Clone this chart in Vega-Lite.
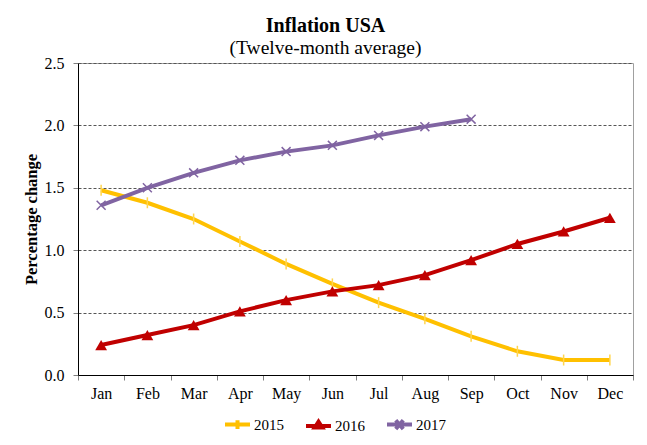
{
  "$schema": "https://vega.github.io/schema/vega-lite/v6.json",
  "width": 555,
  "height": 312,
  "autosize": {"type": "none"},
  "padding": {"left": 78, "top": 63, "right": 14, "bottom": 70},
  "background": "white",
  "title": {
    "text": "Inflation USA",
    "subtitle": "(Twelve-month average)",
    "anchor": "middle",
    "dx": -30,
    "font": "Liberation Serif",
    "fontSize": 20,
    "fontWeight": "bold",
    "color": "black",
    "subtitleFont": "Liberation Serif",
    "subtitleFontSize": 19.5,
    "subtitleColor": "black",
    "subtitlePadding": 3,
    "offset": -2
  },
  "config": {
    "view": {"stroke": "#a0a0a0", "strokeWidth": 1},
    "axis": {
      "labelFont": "Liberation Serif",
      "labelFontSize": 16,
      "labelColor": "black",
      "titleFont": "Liberation Serif",
      "domainColor": "black",
      "tickColor": "#808080"
    }
  },
  "data": {
    "values": [
      {"month": "Jan", "year": "2015", "value": 1.48},
      {"month": "Feb", "year": "2015", "value": 1.38},
      {"month": "Mar", "year": "2015", "value": 1.25},
      {"month": "Apr", "year": "2015", "value": 1.07},
      {"month": "May", "year": "2015", "value": 0.89},
      {"month": "Jun", "year": "2015", "value": 0.73},
      {"month": "Jul", "year": "2015", "value": 0.58},
      {"month": "Aug", "year": "2015", "value": 0.45},
      {"month": "Sep", "year": "2015", "value": 0.31},
      {"month": "Oct", "year": "2015", "value": 0.19},
      {"month": "Nov", "year": "2015", "value": 0.12},
      {"month": "Dec", "year": "2015", "value": 0.12},
      {"month": "Jan", "year": "2016", "value": 0.24},
      {"month": "Feb", "year": "2016", "value": 0.32},
      {"month": "Mar", "year": "2016", "value": 0.40},
      {"month": "Apr", "year": "2016", "value": 0.51},
      {"month": "May", "year": "2016", "value": 0.60},
      {"month": "Jun", "year": "2016", "value": 0.67},
      {"month": "Jul", "year": "2016", "value": 0.72},
      {"month": "Aug", "year": "2016", "value": 0.80},
      {"month": "Sep", "year": "2016", "value": 0.92},
      {"month": "Oct", "year": "2016", "value": 1.05},
      {"month": "Nov", "year": "2016", "value": 1.15},
      {"month": "Dec", "year": "2016", "value": 1.26},
      {"month": "Jan", "year": "2017", "value": 1.36},
      {"month": "Feb", "year": "2017", "value": 1.50},
      {"month": "Mar", "year": "2017", "value": 1.62},
      {"month": "Apr", "year": "2017", "value": 1.72},
      {"month": "May", "year": "2017", "value": 1.79},
      {"month": "Jun", "year": "2017", "value": 1.84},
      {"month": "Jul", "year": "2017", "value": 1.92},
      {"month": "Aug", "year": "2017", "value": 1.99},
      {"month": "Sep", "year": "2017", "value": 2.05}
    ]
  },
  "encoding": {
    "x": {
      "field": "month",
      "type": "ordinal",
      "bandPosition": 0.5,
      "sort": ["Jan","Feb","Mar","Apr","May","Jun","Jul","Aug","Sep","Oct","Nov","Dec"],
      "scale": {"type": "band", "paddingInner": 0, "paddingOuter": 0},
      "axis": {
        "title": null,
        "labelAngle": 0,
        "tickBand": "extent",
        "tickSize": 5,
        "labelPadding": 5,
        "grid": false
      }
    },
    "y": {
      "field": "value",
      "type": "quantitative",
      "scale": {"domain": [0, 2.5]},
      "axis": {
        "title": "Percentage change",
        "titleFontSize": 16.5,
        "titleFontWeight": "bold",
        "titleColor": "black",
        "titlePadding": 5,
        "values": [0, 0.5, 1, 1.5, 2, 2.5],
        "format": ".1f",
        "tickSize": 5,
        "labelPadding": 9,
        "grid": true,
        "gridColor": "#555555",
        "gridDash": [3, 2],
        "gridWidth": 1
      }
    }
  },
  "layer": [
    {
      "mark": {"type": "line"},
      "encoding": {
        "color": {
          "field": "year",
          "type": "nominal",
          "scale": {"domain": ["2015", "2016", "2017"], "range": ["#FFC000", "#C00000", "#8064A2"]},
          "legend": {
            "title": null,
            "orient": "none",
            "direction": "horizontal",
            "legendX": 145,
            "legendY": 347,
            "labelFont": "Liberation Serif",
            "labelFontSize": 15,
            "labelColor": "black",
            "labelOffset": 2,
            "columnPadding": 14,
            "symbolSize": 625,
            "symbolStrokeWidth": 3,
            "encode": {
              "symbols": {
                "update": {
                  "shape": {"signal": "datum.value === '2015' ? 'M-1,0H1M0,-0.35V0.35' : datum.value === '2016' ? 'M-1,0H1M-0.3,0.12L0,-0.35L0.3,0.12Z' : 'M-1,0H1M-0.3,-0.35L0.3,0.35M-0.3,0.35L0.3,-0.35'"},
                  "fill": {"signal": "datum.value === '2016' ? '#C00000' : 'transparent'"},
                  "strokeWidth": {"signal": "datum.value === '2017' ? 2.5 : 3"}
                }
              }
            }
          }
        },
        "strokeWidth": {
          "field": "year",
          "type": "ordinal",
          "scale": {"domain": ["2015", "2016", "2017"], "range": [4, 4, 2.75]},
          "legend": null
        }
      }
    },
    {
      "transform": [{"filter": "datum.year === '2015'"}],
      "mark": {"type": "point", "shape": "M0,-1V1", "size": 120, "filled": false, "stroke": "#FFD54F", "strokeWidth": 1.5, "opacity": 1}
    },
    {
      "transform": [{"filter": "datum.year === '2016'"}],
      "mark": {"type": "point", "shape": "triangle-up", "size": 140, "filled": true, "color": "#C00000", "opacity": 1}
    },
    {
      "transform": [{"filter": "datum.year === '2017'"}],
      "mark": {"type": "point", "shape": "M-1,-1L1,1M-1,1L1,-1", "size": 80, "filled": false, "stroke": "#8064A2", "strokeWidth": 1.5, "opacity": 1}
    }
  ]
}
